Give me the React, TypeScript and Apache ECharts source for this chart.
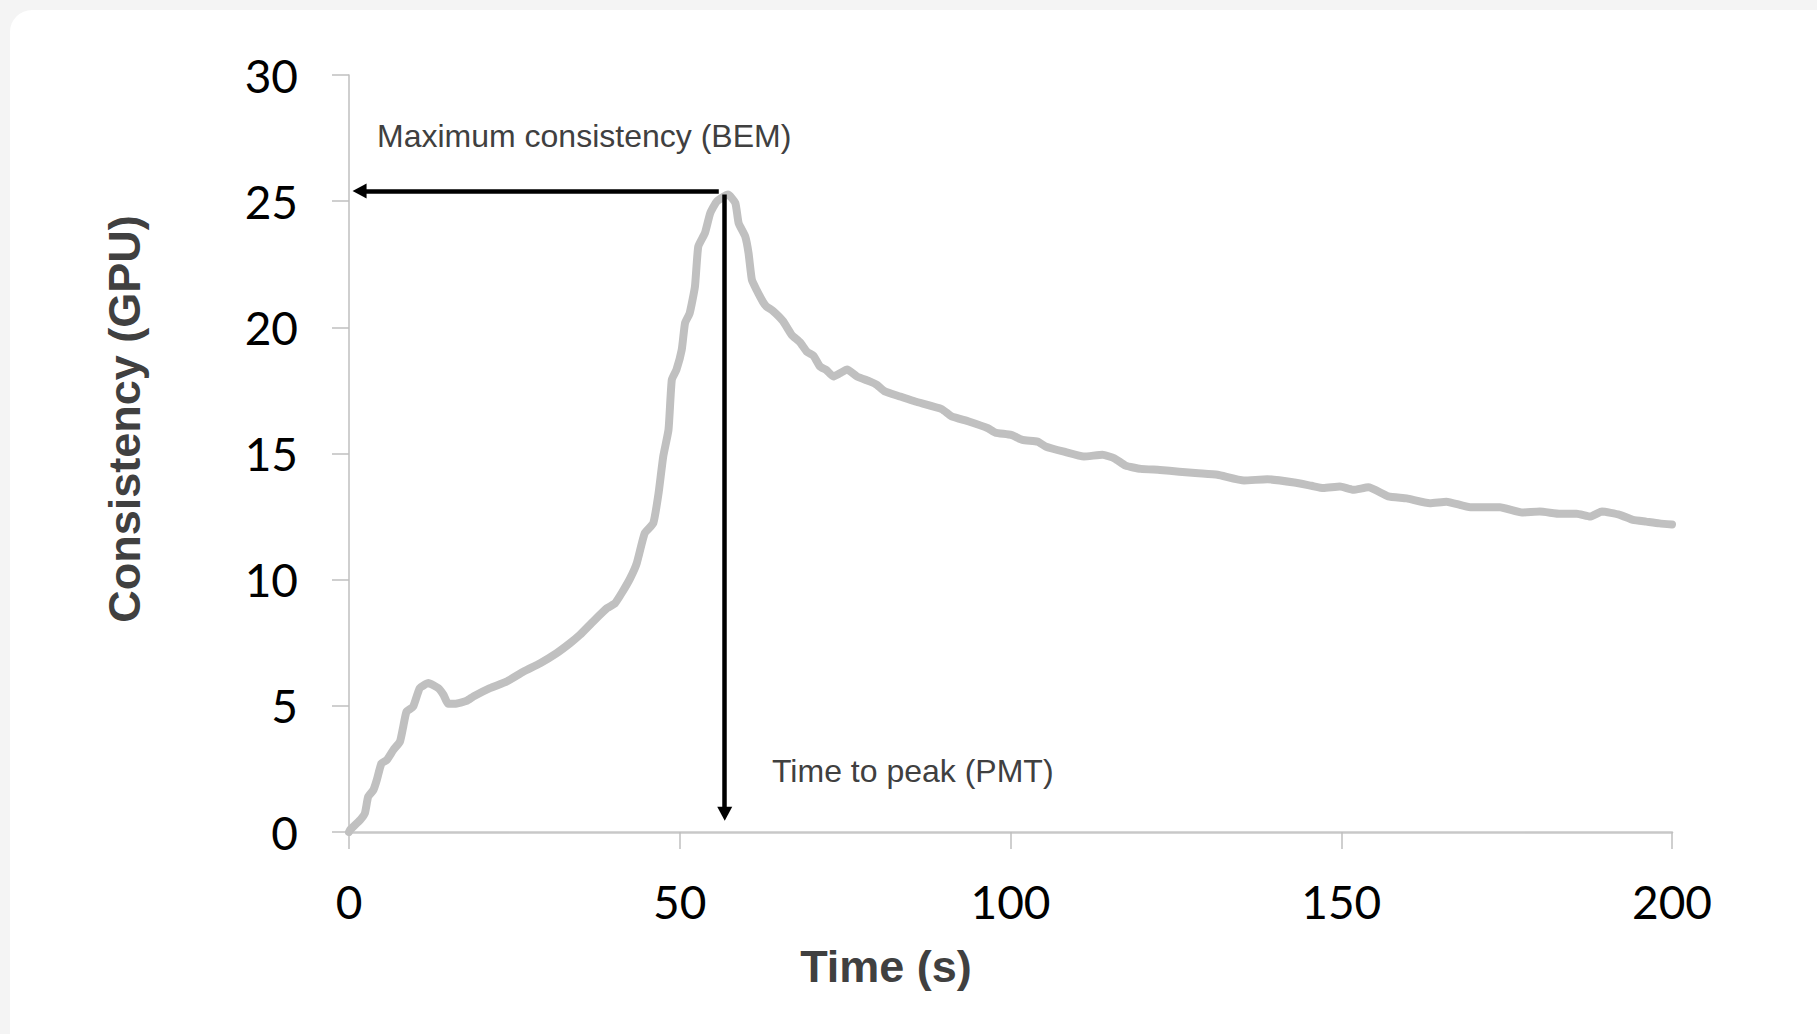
import React, { useEffect, useRef } from "react";
import * as echarts from "echarts";

// Data
const timeS = [
  0, 0.15, 1.7, 2.4, 2.9, 3.7, 4.2, 4.9, 5.7, 6.7, 7.7, 8.2, 8.7, 9.7, 10.7, 12.0, 13.5, 14.3, 15.0, 16.0,
  17.8, 18.8, 21.3, 23.8, 26.4, 28.9, 31.4, 33.4, 34.9, 36.9, 39.0, 40.2, 41.3, 42.5, 43.5, 44.7, 46.0, 46.8,
  47.5, 48.3, 48.8, 49.5, 50.3, 50.8, 51.5, 52.3, 52.8, 53.8, 54.6, 55.6, 57.3, 58.4, 58.9, 59.9, 60.4, 60.9,
  61.6, 62.6, 63.1, 64.1, 65.6, 66.9, 68.2, 69.2, 70.2, 71.2, 72.2, 73.2, 74.2, 75.3, 76.8, 78.8, 79.8, 81.0,
  83.3, 85.6, 89.6, 91.1, 93.7, 96.6, 97.7, 100.1, 101.8, 104.1, 105.3, 108.1, 111.1, 113.9, 115.7, 117.4,
  119.7, 122.6, 125.5, 128.4, 131.3, 135.3, 138.8, 142.9, 145.5, 147.3, 149.8, 151.8, 154.1, 157.1, 159.9,
  163.4, 165.9, 169.5, 174.0, 177.3, 180.0, 183.1, 185.6, 187.6, 189.4, 192.1, 194.1, 196.1, 198.1, 200,
];
const consistency = [
  0, 0.08, 0.48, 0.74, 1.4, 1.67, 2.06, 2.72, 2.85, 3.25, 3.58, 4.18, 4.77, 4.97, 5.7, 5.9, 5.7, 5.43, 5.08, 5.08,
  5.2, 5.37, 5.7, 5.96, 6.36, 6.69, 7.09, 7.48, 7.81, 8.34, 8.87, 9.06, 9.5, 10.05, 10.65, 11.84, 12.24, 13.43,
  14.88, 15.94, 17.92, 18.32, 19.11, 20.17, 20.56, 21.62, 23.2, 23.73, 24.52, 24.99, 25.26, 24.93, 24.13, 23.6, 22.94, 21.89,
  21.49, 21.0, 20.83, 20.65, 20.25, 19.71, 19.4, 19.04, 18.88, 18.45, 18.3, 18.05, 18.18, 18.33, 18.05, 17.85, 17.72, 17.46,
  17.26, 17.06, 16.76, 16.47, 16.27, 16.0, 15.83, 15.74, 15.54, 15.47, 15.28, 15.07, 14.88, 14.95, 14.81, 14.52,
  14.39, 14.35, 14.28, 14.22, 14.16, 13.93, 13.98, 13.85, 13.72, 13.63, 13.69, 13.56, 13.66, 13.3, 13.22,
  13.03, 13.09, 12.87, 12.87, 12.66, 12.7, 12.61, 12.61, 12.5, 12.7, 12.57, 12.37, 12.3, 12.23, 12.19,
];

// Annotation arrows (value coordinates)
const bemArrow = [
  [55.9, 25.4],
  [1.6, 25.4],
];
const pmtArrow = [
  [56.8, 25.26],
  [56.8, 0.72],
];

const xTicks = { min: 0, max: 200, interval: 50 };
const yTicks = { min: 0, max: 30, interval: 5 };

const xTitle = "Time (s)";
const yTitle = "Consistency (GPU)";
const bemLabel = "Maximum consistency (BEM)";
const pmtLabel = "Time to peak (PMT)";

export default function App() {
  const ref = useRef<HTMLDivElement>(null);

  useEffect(() => {
    if (!ref.current) return;
    const chart = echarts.init(ref.current, null, { renderer: "svg" });
    const data = timeS.map((t, i) => [t, consistency[i]]);
    const titleFont = "'Liberation Sans', Arial, sans-serif";
    const tickFont = "Lato, 'Open Sans', sans-serif";

    chart.setOption({
      animation: false,
      backgroundColor: "#f4f4f4",
      grid: { left: 349, right: 145, top: 75, bottom: 202, containLabel: false },
      xAxis: {
        type: "value",
        min: xTicks.min,
        max: xTicks.max,
        interval: xTicks.interval,
        axisLine: { show: true, lineStyle: { color: "#c8c8c8", width: 2.5 } },
        axisTick: { show: true, inside: false, length: 17, lineStyle: { color: "#bfbfbf", width: 1.5 } },
        splitLine: { show: false },
        axisLabel: { fontFamily: tickFont, fontSize: 46, color: "#000", margin: 46 },
      },
      yAxis: {
        type: "value",
        min: yTicks.min,
        max: yTicks.max,
        interval: yTicks.interval,
        axisLine: { show: true, lineStyle: { color: "#bfbfbf", width: 1.5 } },
        axisTick: { show: true, inside: false, length: 17, lineStyle: { color: "#bfbfbf", width: 1.5 } },
        splitLine: { show: false },
        axisLabel: { fontFamily: tickFont, fontSize: 46, color: "#000", margin: 51 },
      },
      series: [
        {
          type: "line",
          data,
          showSymbol: false,
          symbol: "none",
          smooth: 0.15,
          z: 2,
          lineStyle: { color: "#c0c0c0", width: 8, cap: "round", join: "round" },
          markLine: {
            silent: true,
            symbol: ["none", "triangle"],
            symbolSize: [15, 14],
            label: { show: false },
            emphasis: { disabled: true },
            lineStyle: { color: "#000", width: 4.5, type: "solid" },
            z: 5,
            data: [
              [{ coord: bemArrow[0] }, { coord: bemArrow[1] }],
              [{ coord: pmtArrow[0] }, { coord: pmtArrow[1] }],
            ],
          },
        },
      ],
      graphic: {
        elements: [
          {
            type: "rect",
            z: -10,
            silent: true,
            shape: { x: 10, y: 10, width: 1840, height: 1060, r: 22 },
            style: { fill: "#ffffff" },
          },
          {
            type: "text",
            x: 377,
            y: 136,
            style: {
              text: bemLabel,
              fontFamily: titleFont,
              fontSize: 32,
              fill: "#404040",
              textAlign: "left",
              textVerticalAlign: "middle",
            },
          },
          {
            type: "text",
            x: 772,
            y: 771,
            style: {
              text: pmtLabel,
              fontFamily: titleFont,
              fontSize: 32,
              fill: "#404040",
              textAlign: "left",
              textVerticalAlign: "middle",
            },
          },
          {
            type: "text",
            x: 886,
            y: 966,
            style: {
              text: xTitle,
              fontFamily: titleFont,
              fontSize: 45,
              fontWeight: "bold",
              fill: "#404040",
              textAlign: "center",
              textVerticalAlign: "middle",
            },
          },
          {
            type: "text",
            x: 124,
            y: 419,
            rotation: Math.PI / 2,
            style: {
              text: yTitle,
              fontFamily: titleFont,
              fontSize: 45,
              fontWeight: "bold",
              fill: "#404040",
              textAlign: "center",
              textVerticalAlign: "middle",
            },
          },
        ],
      },
    });

    return () => chart.dispose();
  }, []);

  return (
    <div
      ref={ref}
      style={{ position: "absolute", left: 0, top: 0, width: 1817, height: 1034 }}
    />
  );
}
